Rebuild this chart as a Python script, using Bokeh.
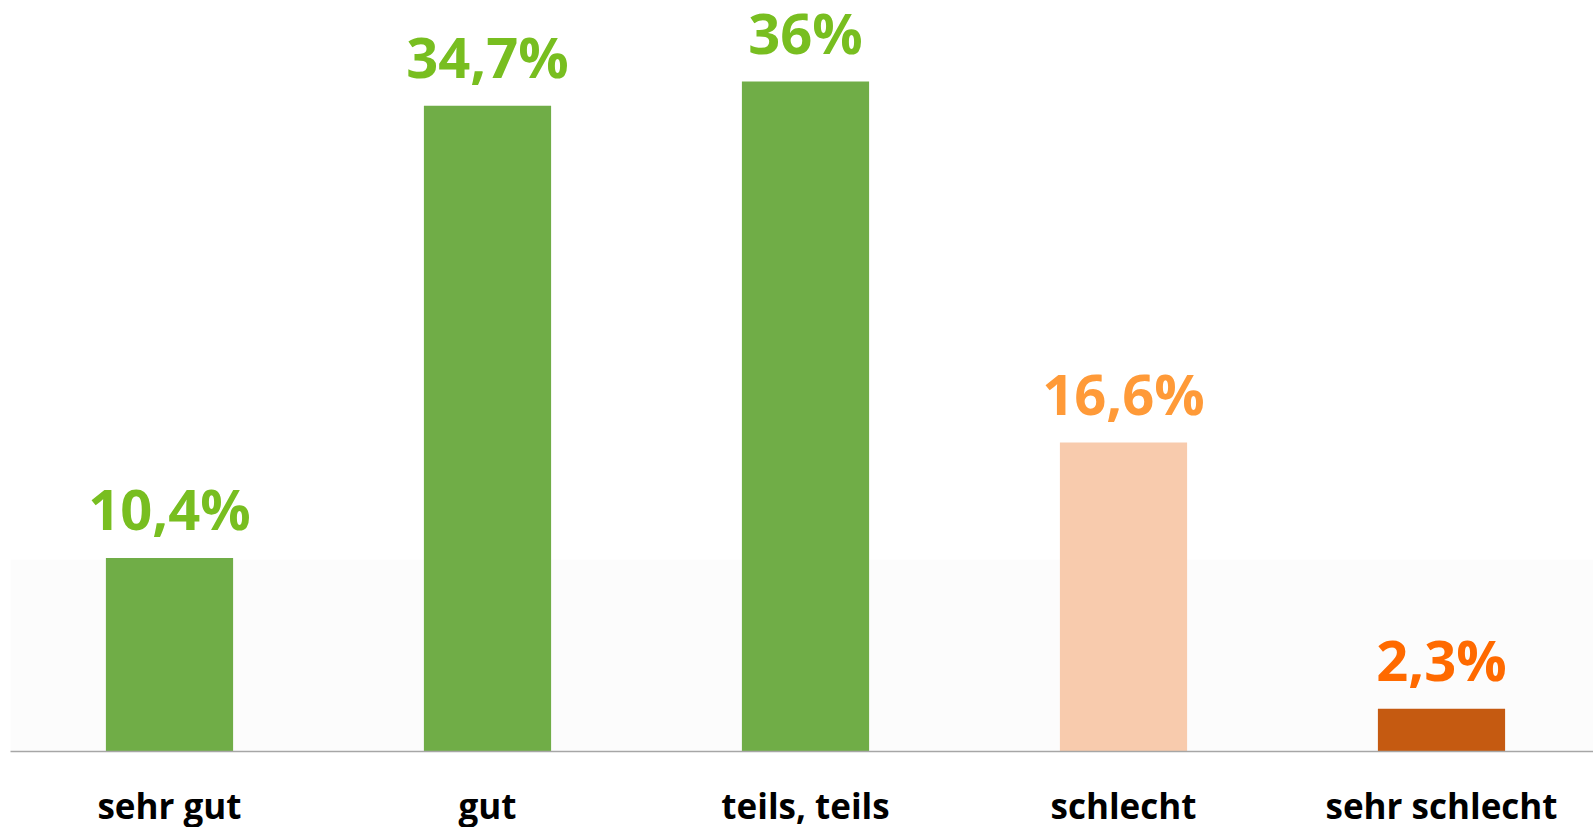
from bokeh.plotting import figure
from bokeh.models import ColumnDataSource, Range1d, FixedTicker, BoxAnnotation
from bokeh.core.properties import value
from bokeh.embed import file_html
from bokeh.resources import INLINE

categories = ["sehr gut", "gut", "teils, teils", "schlecht", "sehr schlecht"]
values = [10.4, 34.7, 36.0, 16.6, 2.3]
value_labels = ["10,4%", "34,7%", "36%", "16,6%", "2,3%"]
bar_colors = ["#70AD47", "#70AD47", "#70AD47", "#F8CBAD", "#C55A11"]
label_colors = ["#78BE20", "#78BE20", "#78BE20", "#FF9A38", "#FF6A00"]

xs = list(range(len(categories)))
src = ColumnDataSource(dict(x=xs, top=values, label=value_labels,
                            bar_color=bar_colors, label_color=label_colors))

p = figure(frame_width=1590, frame_height=751,
           x_range=Range1d(-0.5, 4.5), y_range=Range1d(0, 40.354),
           output_backend="svg", toolbar_location=None,
           y_axis_location=None, min_border_left=10, min_border_right=0,
           min_border_top=0, min_border_bottom=0)

p.add_layout(BoxAnnotation(bottom=0, top=10.3, fill_color="#FCFCFC",
                           fill_alpha=1.0, line_alpha=0, level="underlay"))

p.vbar(x="x", top="top", bottom=0, width=0.4, source=src,
       fill_color="bar_color", line_color=None)
p.text(x="x", y="top", text="label", source=src, y_offset=-50,
       text_align="center", text_baseline="alphabetic",
       text_color="label_color", text_font=value("Open Sans"),
       text_font_style="bold", text_font_size="56px")

p.xgrid.visible = False
p.ygrid.visible = False
p.outline_line_color = None
p.background_fill_color = "white"
p.border_fill_color = "white"

ax = p.xaxis[0]
ax.ticker = FixedTicker(ticks=xs)
ax.major_label_overrides = {i: c for i, c in enumerate(categories)}
ax.major_tick_line_color = None
ax.minor_tick_line_color = None
ax.major_tick_out = 0
ax.major_tick_in = 0
ax.minor_tick_out = 0
ax.axis_line_color = "#A6A6A6"
ax.axis_line_width = 1.5
ax.major_label_text_font = "Open Sans"
ax.major_label_text_font_style = "bold"
ax.major_label_text_font_size = "35px"
ax.major_label_text_color = "black"
ax.major_label_standoff = 30

html = file_html(p, INLINE)
html = html.replace("<head>", "<head><style>html,body{overflow:hidden;}</style>", 1)
open("out.html", "w").write(html)
